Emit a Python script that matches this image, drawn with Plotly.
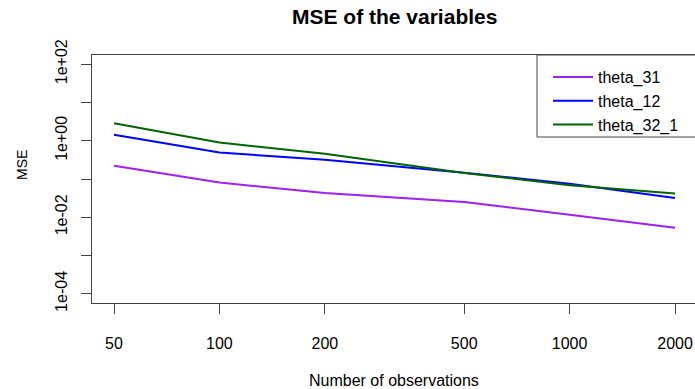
import numpy as np
import plotly.graph_objects as go

# Sample sizes and MSE per parameter
n_obs = [50, 100, 200, 500, 1000, 2000]
mse_theta_31 = [0.221, 0.081, 0.043, 0.025, 0.0116, 0.0053]
mse_theta_12 = [1.43, 0.49, 0.317, 0.145, 0.075, 0.032]
mse_theta_32_1 = [2.88, 0.90, 0.455, 0.143, 0.069, 0.042]

x_ticks = [50, 100, 200, 500, 1000, 2000]
y_tick_vals = [1e-4, 1e-3, 1e-2, 1e-1, 1e0, 1e1, 1e2]
y_tick_text = ["1e-04", "", "1e-02", "", "1e+00", "", "1e+02"]

series = [
    ("theta_31", mse_theta_31, "#A020F0"),
    ("theta_12", mse_theta_12, "#0000FF"),
    ("theta_32_1", mse_theta_32_1, "#006400"),
]

FONT = "Liberation Sans, Arial, sans-serif"
AXIS_COLOR = "#444444"

fig = go.Figure()
for name, vals, color in series:
    fig.add_trace(go.Scatter(
        x=n_obs, y=vals, mode="lines", name=name,
        line=dict(color=color, width=2),
    ))

W, H = 695, 389
L, R, T, B = 92, 0, 55, 86
plot_w = W - L - R
plot_h = H - T - B

# log10 ranges with R-style padding
x_lo = np.log10(50) - 22 / 350.2
x_hi = x_lo + plot_w / 350.2

fig.update_layout(
    width=W, height=H,
    margin=dict(l=L, r=R, t=T, b=B),
    paper_bgcolor="white", plot_bgcolor="white",
    font=dict(family=FONT, size=16, color="black"),
    showlegend=True,
    legend=dict(
        x=(548 - L) / plot_w, y=1 - 5 / plot_h,
        xanchor="left", yanchor="top",
        bgcolor="rgba(0,0,0,0)", borderwidth=0,
        font=dict(family=FONT, size=16, color="black"),
        tracegroupgap=0, itemwidth=40,
    ),
    xaxis=dict(
        type="log", range=[x_lo, x_hi],
        tickvals=x_ticks, ticktext=[str(v) for v in x_ticks],
        ticks="outside", ticklen=10, tickwidth=1, tickcolor=AXIS_COLOR,
        showline=True, linecolor=AXIS_COLOR, linewidth=1, mirror=True,
        showgrid=False, zeroline=False,
        ticklabelstandoff=16,
        tickfont=dict(family=FONT, size=16, color="black"),
    ),
    yaxis=dict(
        type="log", range=[-4.24, 2.24],
        tickvals=y_tick_vals, ticktext=y_tick_text,
        tickangle=-90,
        ticks="outside", ticklen=10, tickwidth=1, tickcolor=AXIS_COLOR,
        showline=True, linecolor=AXIS_COLOR, linewidth=1, mirror=False,
        showgrid=False, zeroline=False,
        ticklabelstandoff=8,
        tickfont=dict(family=FONT, size=16, color="black"),
    ),
    shapes=[
        dict(type="rect", xref="paper", yref="paper",
             x0=(537 - L) / plot_w, x1=1.01, y0=(H - B - 137) / plot_h, y1=1,
             line=dict(color=AXIS_COLOR, width=1), fillcolor="rgba(0,0,0,0)"),
    ],
    annotations=[
        dict(text="<b>MSE of the variables</b>", xref="paper", yref="paper",
             x=(394 - L) / plot_w, y=(H - B - 16.7) / plot_h,
             xanchor="center", yanchor="middle", showarrow=False,
             font=dict(family=FONT, size=21, color="black")),
        dict(text="Number of observations", xref="paper", yref="paper",
             x=(394 - L) / plot_w, y=(H - B - 380) / plot_h,
             xanchor="center", yanchor="middle", showarrow=False,
             font=dict(family=FONT, size=16, color="black")),
        dict(text="MSE", xref="paper", yref="paper", textangle=-90,
             x=(22 - L) / plot_w, y=(H - B - 165) / plot_h,
             xanchor="center", yanchor="middle", showarrow=False,
             font=dict(family=FONT, size=14, color="black")),
    ],
)

fig.write_html("out.html")
